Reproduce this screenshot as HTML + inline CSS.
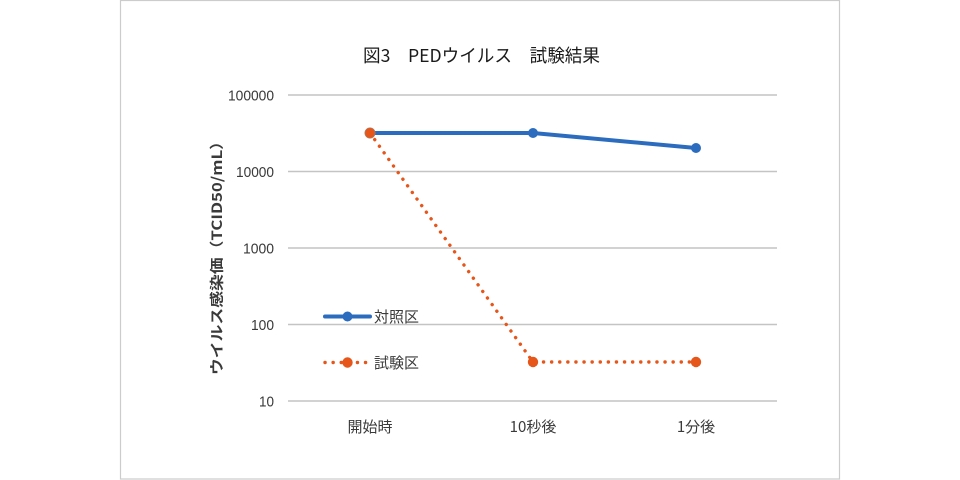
<!DOCTYPE html>
<html>
<head>
<meta charset="utf-8">
<style>
  html, body { margin: 0; padding: 0; background: #ffffff; }
  svg { display: block; }
  text { font-family: "Liberation Sans", "Noto Sans CJK JP", sans-serif; fill: #3a3a3a; }
  .jp { font-family: "Noto Sans CJK JP", "Liberation Sans", sans-serif; }
</style>
</head>
<body>
<svg width="960" height="480" viewBox="0 0 960 480" xmlns="http://www.w3.org/2000/svg">
  <rect x="0" y="0" width="960" height="480" fill="#ffffff"/>
  <!-- chart frame -->
  <rect x="120.5" y="0.5" width="719" height="478.5" fill="#ffffff" stroke="#cccccc" stroke-width="1.2"/>

  <!-- title -->
  <text class="jp" x="363" y="62" font-size="18" textLength="237" lengthAdjust="spacingAndGlyphs" style="fill:#1a1a1a">図3　PEDウイルス　試験結果</text>

  <!-- gridlines -->
  <g stroke="#c4c4c4" stroke-width="1.6">
    <line x1="288" y1="95" x2="777" y2="95"/>
    <line x1="288" y1="171.5" x2="777" y2="171.5"/>
    <line x1="288" y1="248" x2="777" y2="248"/>
    <line x1="288" y1="324.5" x2="777" y2="324.5"/>
    <line x1="288" y1="401" x2="777" y2="401"/>
  </g>

  <!-- y tick labels -->
  <g font-size="15" text-anchor="end">
    <text x="274" y="100.5" textLength="46" lengthAdjust="spacingAndGlyphs">100000</text>
    <text x="274" y="177" textLength="38" lengthAdjust="spacingAndGlyphs">10000</text>
    <text x="274" y="253.5" textLength="31" lengthAdjust="spacingAndGlyphs">1000</text>
    <text x="274" y="330" textLength="23" lengthAdjust="spacingAndGlyphs">100</text>
    <text x="274" y="406.5" textLength="15" lengthAdjust="spacingAndGlyphs">10</text>
  </g>

  <!-- x category labels -->
  <g font-size="15" text-anchor="middle">
    <text class="jp" x="370" y="432">開始時</text>
    <text class="jp" x="533" y="432">10秒後</text>
    <text class="jp" x="696" y="432">1分後</text>
  </g>

  <!-- y axis title -->
  <text class="jp" transform="translate(222,254) rotate(-90)" x="0" y="0" font-size="14" font-weight="bold" text-anchor="middle" textLength="242" lengthAdjust="spacingAndGlyphs">ウイルス感染価（TCID50/mL）</text>

  <!-- control series (blue) -->
  <polyline points="370,133 533,133 696,148" fill="none" stroke="#2b6cbf" stroke-width="4" stroke-linejoin="round"/>
  <circle cx="533" cy="133" r="5" fill="#2b6cbf"/>
  <circle cx="696" cy="148" r="5" fill="#2b6cbf"/>
  <circle cx="370" cy="133" r="5" fill="#2b6cbf"/>

  <!-- test series (orange dotted) -->
  <polyline points="370,133 533,362 696,362" fill="none" stroke="#e6561a" stroke-width="3.4" stroke-linecap="round" stroke-dasharray="0.1 8" stroke-linejoin="round"/>
  <circle cx="370" cy="133" r="5.2" fill="#e6561a" stroke="#a08070" stroke-width="0.6"/>
  <circle cx="533" cy="362" r="5.2" fill="#e6561a"/>
  <circle cx="696" cy="362" r="5.2" fill="#e6561a"/>

  <!-- legend -->
  <line x1="325" y1="316.5" x2="370" y2="316.5" stroke="#2b6cbf" stroke-width="4" stroke-linecap="round"/>
  <circle cx="347.5" cy="316.5" r="5" fill="#2b6cbf"/>
  <text class="jp" x="374" y="322" font-size="15">対照区</text>

  <line x1="325" y1="362.5" x2="370" y2="362.5" stroke="#e6561a" stroke-width="3.4" stroke-linecap="round" stroke-dasharray="0.1 8"/>
  <circle cx="347.5" cy="362.5" r="5.2" fill="#e6561a"/>
  <text class="jp" x="374" y="368" font-size="15">試験区</text>
</svg>
</body>
</html>
